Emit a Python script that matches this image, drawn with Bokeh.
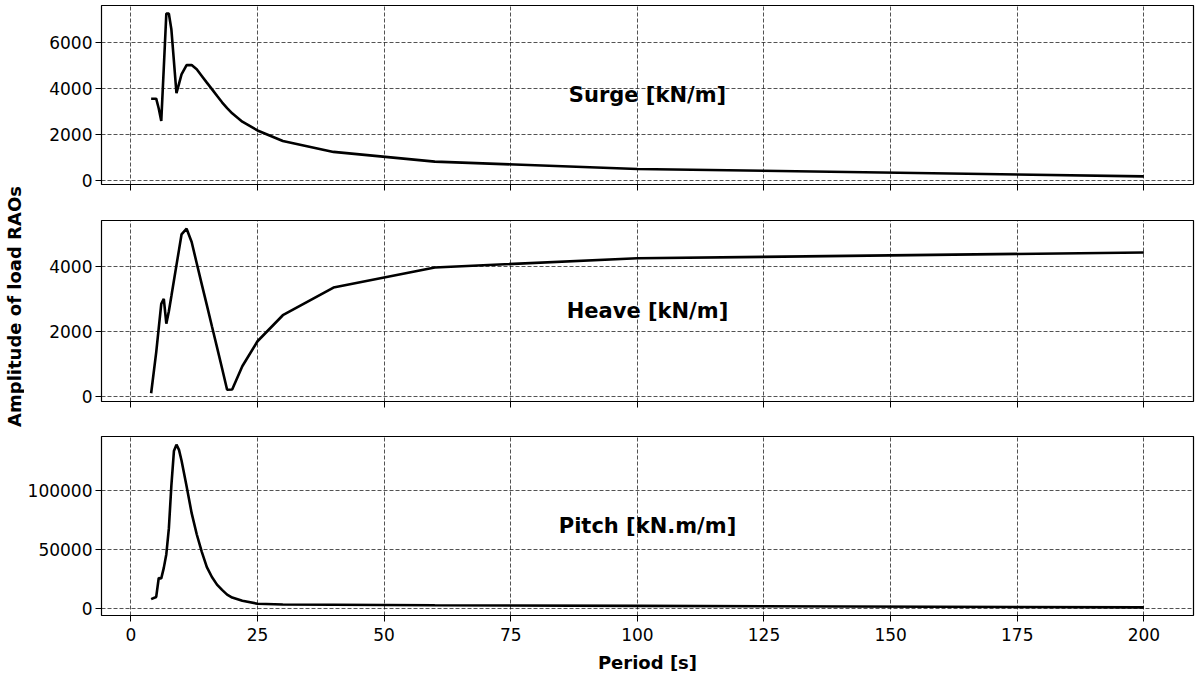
import math
from bokeh.plotting import figure
from bokeh.layouts import column, row
from bokeh.models import Range1d, FixedTicker, Label, ColumnDataSource
from bokeh.core.properties import value
from bokeh.embed import file_html
from bokeh.resources import INLINE

periods = [4, 5, 5.5, 6, 6.5, 7, 7.5, 8, 8.5, 9, 9.5, 10, 11, 12, 13, 14, 15, 16,
           17, 18, 19, 20, 22, 25, 30, 40, 60, 100, 200]
surge = [3555, 3555, 3130, 2590, 4900, 7240, 7240, 6550, 5170, 3790, 4200, 4610,
         5010, 5010, 4830, 4540, 4250, 3970, 3680, 3400, 3150, 2920,
         2560, 2180, 1720, 1250, 830, 510, 190]
heave = [100, 1360, 2100, 2850, 3006, 2240, 2620, 3090, 3570, 4040, 4510, 4985,
         5160, 4750, 4100, 3450, 2810, 2160, 1520, 870, 210, 215,
         930, 1700, 2500, 3350, 3970, 4250, 4430]
pitch = [7600, 9500, 25700, 25300, 34300, 46000, 68000, 105000, 134000, 139500, 135000, 126000,
         104000, 81000, 63000, 48000, 35000, 26500, 20000, 15500, 11500, 9000,
         6200, 3700, 3000, 2800, 2400, 1900, 600]

panel_names = ["Surge [kN/m]", "Heave [kN/m]", "Pitch [kN.m/m]"]
panel_values = [surge, heave, pitch]
panel_yticks = [[0, 2000, 4000, 6000], [0, 2000, 4000], [0, 50000, 100000]]
x_ticks = [0, 25, 50, 75, 100, 125, 150, 175, 200]
x_label = "Period [s]"
y_label = "Amplitude of load RAOs"

FONT = "DejaVu Sans"


def padded(vals, frac=0.05):
    lo, hi = min(vals), max(vals)
    d = (hi - lo) * frac
    return lo - d, hi + d


xlo, xhi = padded(periods)
x_range = Range1d(xlo, xhi)

LABEL_W = 24
TOTAL_H = 675
W = 1196 - LABEL_W
heights = [202, 216, 257]
borders_top = [5, 18, 18]
borders_bottom = [18, 17, 59]

figs = []
for i, (name, vals, yt) in enumerate(zip(panel_names, panel_values, panel_yticks)):
    ylo, yhi = padded(vals)
    p = figure(width=W, height=heights[i], x_range=x_range, y_range=Range1d(ylo, yhi),
               output_backend="svg", toolbar_location=None,
               min_border_left=101 - LABEL_W, min_border_right=3,
               min_border_top=borders_top[i], min_border_bottom=borders_bottom[i])
    p.background_fill_color = "white"
    p.border_fill_color = "white"
    p.outline_line_color = "black"
    p.outline_line_width = 1.2
    p.outline_line_alpha = 1.0

    src = ColumnDataSource(dict(x=periods, y=vals))
    p.line("x", "y", source=src, line_color="black", line_width=2.6)

    for ax in (p.xaxis[0], p.yaxis[0]):
        ax.axis_line_color = None
        ax.major_tick_in = 0
        ax.major_tick_out = 6
        ax.major_tick_line_color = "black"
        ax.major_tick_line_width = 1
        ax.minor_tick_line_color = None
        ax.major_label_text_font = FONT
        ax.major_label_text_font_size = "17px"
        ax.major_label_text_color = "black"
        ax.major_label_standoff = 3
    p.xaxis.ticker = FixedTicker(ticks=x_ticks)
    p.yaxis.ticker = FixedTicker(ticks=yt)
    p.yaxis[0].formatter.use_scientific = False

    for g in (p.xgrid[0], p.ygrid[0]):
        g.grid_line_color = "black"
        g.grid_line_dash = "4 2"
        g.grid_line_width = 0.8
        g.grid_line_alpha = 0.85
    p.xgrid.ticker = FixedTicker(ticks=x_ticks)
    p.ygrid.ticker = FixedTicker(ticks=yt)

    if i < 2:
        # shared x axis: ticks only, labels not drawn
        p.xaxis.major_label_text_color = None
        p.xaxis.major_label_text_font_size = "1px"
        p.xaxis.major_label_standoff = 0
    else:
        p.xaxis.major_label_standoff = 6
        p.xaxis.axis_label = x_label
        p.xaxis.axis_label_text_font = FONT
        p.xaxis.axis_label_text_font_style = "bold"
        p.xaxis.axis_label_text_font_size = "18px"
        p.xaxis.axis_label_text_color = "black"
        p.xaxis.axis_label_standoff = 8

    p.add_layout(Label(x=(xlo + xhi) / 2, y=(ylo + yhi) / 2, text=name,
                       text_align="center", text_baseline="middle",
                       text_font=FONT, text_font_style="bold",
                       text_font_size="21px", text_color="black"))
    figs.append(p)

# common y-axis title spanning all three panels
lab = figure(width=LABEL_W, height=TOTAL_H, x_range=Range1d(0, LABEL_W),
             y_range=Range1d(0, TOTAL_H), output_backend="svg", toolbar_location=None,
             x_axis_type=None, y_axis_type=None, min_border=0)
lab.outline_line_color = None
lab.background_fill_color = "white"
lab.border_fill_color = "white"
lab.text(x=[14], y=[TOTAL_H - 306], text=[y_label], angle=math.pi / 2,
         text_align="center", text_baseline="middle",
         text_font=value(FONT), text_font_style="bold",
         text_font_size="18px", text_color="black")

layout = row(lab, column(*figs, spacing=0), spacing=0)
open("out.html", "w").write(file_html(layout, INLINE))
